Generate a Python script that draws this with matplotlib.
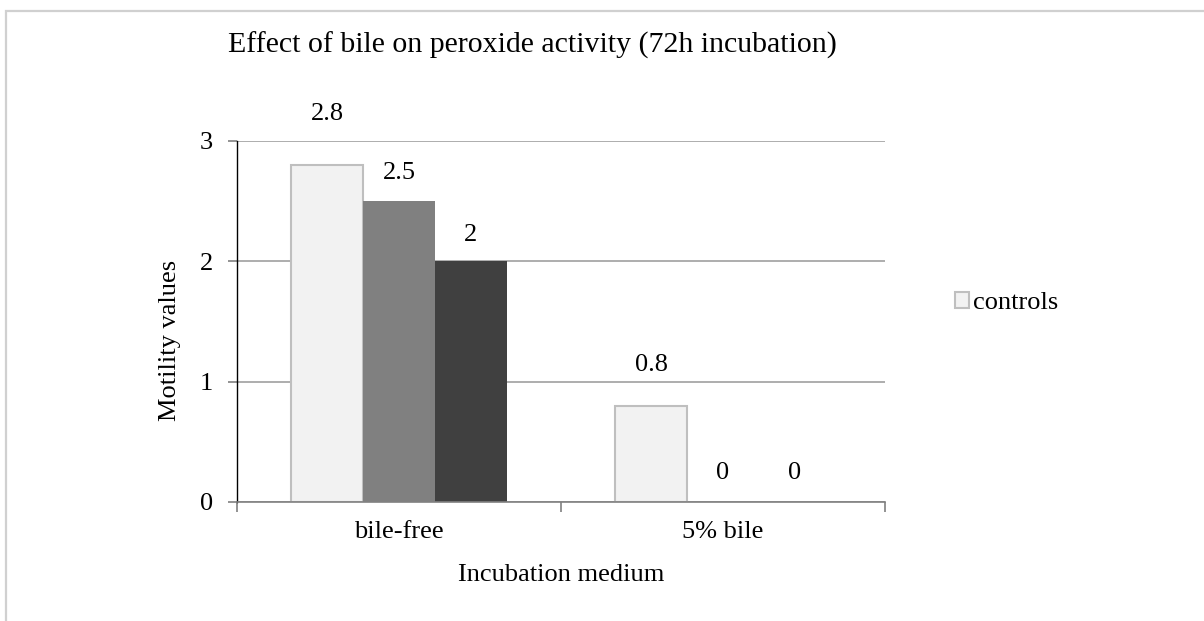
import numpy as np
import matplotlib.pyplot as plt
from matplotlib.patches import Rectangle

plt.rcParams["font.family"] = ["Liberation Serif", "DejaVu Serif"]

# data
categories = ["bile-free", "5% bile"]
controls = [2.8, 0.8]
series_b = [2.5, 0]
series_c = [2.0, 0]
series_names = ["controls", "", ""]
# manual label offsets (px above bar top), as positioned in the original
label_offsets = [[51, 28, 26], [41, 29, 29]]

colors = ["#f2f2f2", "#808080", "#404040"]
edges = ["#bfbfbf", "none", "none"]
fs = 19

fig = plt.figure(figsize=(12.04, 6.21), dpi=100)
ax = fig.add_axes([237/1204, 1-502/621, (885-237)/1204, (502-140.7)/621])

x = np.arange(len(categories))
w = 0.222
all_series = [controls, series_b, series_c]
for i, vals in enumerate(all_series):
    ax.bar(x + (i-1)*w, vals, w, color=colors[i], edgecolor=edges[i],
           linewidth=1.5, label=series_names[i] if series_names[i] else "_nolegend_",
           zorder=3)

# value labels
for i, vals in enumerate(all_series):
    for j, v in enumerate(vals):
        ax.annotate("%g" % v, (x[j] + (i-1)*w, v),
                    xytext=(0, label_offsets[j][i]*0.72), textcoords="offset points",
                    ha="center", va="center", fontsize=fs)

ax.set_xlim(-0.5, 1.5)
ax.set_ylim(0, 3)
ax.set_yticks([0, 1, 2, 3])
ax.yaxis.grid(True, color="#a0a0a0", linewidth=1.2, zorder=0)
ax.set_axisbelow(True)

ax.set_xticks(x)
ax.set_xticklabels(categories, fontsize=fs)
ax.set_xticks([-0.5, 0.5, 1.5], minor=True)
ax.tick_params(axis="x", which="major", length=0, pad=14)
ax.tick_params(axis="x", which="minor", length=7, color="#808080", width=1.2)
ax.tick_params(axis="y", length=6.5, color="#808080", width=1.2, labelsize=fs, pad=11)

for s in ["top", "right"]:
    ax.spines[s].set_visible(False)
ax.spines["left"].set_color("black")
ax.spines["left"].set_linewidth(1.0)
ax.spines["bottom"].set_color("#808080")
ax.spines["bottom"].set_linewidth(1.2)
ax.spines["bottom"].set_zorder(4)

ax.set_ylabel("Motility values", fontsize=fs)
ax.yaxis.label.set_va("center")
ax.yaxis.set_label_coords((170-237)/648, (502-340)/361.3)
ax.set_xlabel("Incubation medium", fontsize=fs)
ax.xaxis.label.set_va("center")
ax.xaxis.set_label_coords(0.5, -(575-502)/361.3)

fig.text(532/1204, 1-45/621, "Effect of bile on peroxide activity (72h incubation)",
         ha="center", va="center", fontsize=21.5)

fig.legend(loc="center left", bbox_to_anchor=(944/1204, 1-303/621), frameon=False,
           fontsize=fs, handlelength=0.55, handleheight=0.55, handletextpad=0.15,
           borderaxespad=0)

# chart-area border (cropped)
fig.add_artist(Rectangle((6/1204, -0.1), 1.2, 1 - 11/621 + 0.1, transform=fig.transFigure,
                         fill=False, edgecolor="#d0d0d0", linewidth=1.6))

fig.savefig("out.png", dpi=100)
